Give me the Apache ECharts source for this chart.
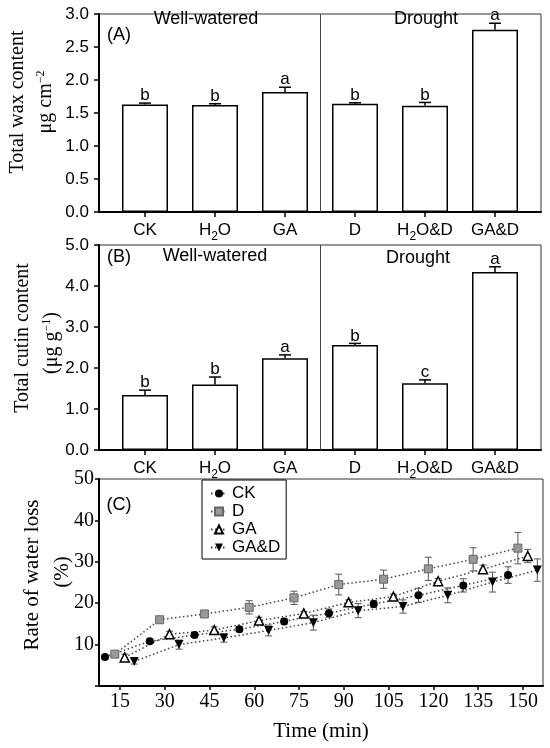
<!DOCTYPE html>
<html>
<head>
<meta charset="utf-8">
<script src="https://cdn.jsdelivr.net/npm/echarts@6/dist/echarts.min.js"></script>
<style>
html, body { margin: 0; padding: 0; background: #fff; }
#chart { width: 550px; height: 748px; }
</style>
</head>
<body>
<div id="chart"></div>
<script>
// panels A and B: six treatments
const treatments = ['CK', 'H2O', 'GA', 'D', 'H2O&D', 'GA&D'];
const waxContent = [1.63, 1.62, 1.82, 1.64, 1.61, 2.76];
const waxError = [0.02, 0.02, 0.07, 0.015, 0.05, 0.10];
const waxLetters = ['b', 'b', 'a', 'b', 'b', 'a'];
const cutinContent = [1.34, 1.60, 2.24, 2.56, 1.63, 4.34];
const cutinError = [0.12, 0.18, 0.08, 0.04, 0.08, 0.13];
const cutinLetters = ['b', 'b', 'a', 'b', 'c', 'a'];

// panel C: water loss over time
const timePoints = [15, 30, 45, 60, 75, 90, 105, 120, 135, 150];
const ckLoss = [7.0, 10.8, 12.3, 13.7, 15.6, 17.6, 19.8, 21.9, 24.3, 26.8];
const ckLossErr = [0.5, 0.5, 0.5, 0.6, 0.6, 1.0, 0.8, 1.7, 1.6, 2.0];
const dLoss = [7.7, 16.0, 17.4, 19.0, 21.3, 24.5, 25.8, 28.3, 30.6, 33.3];
const dLossErr = [0.5, 0.7, 0.6, 1.6, 1.6, 2.5, 2.2, 2.8, 2.8, 3.8];
const gaLoss = [6.9, 12.5, 13.5, 15.8, 17.5, 20.2, 21.6, 25.3, 28.2, 31.4];
const gaLossErr = [0.8, 0.7, 0.8, 0.8, 0.5, 0.6, 0.6, 0.7, 1.0, 1.6];
const gadLoss = [5.9, 10.0, 11.6, 13.4, 15.3, 18.2, 19.2, 21.9, 25.1, 28.0];
const gadLossErr = [0.6, 1.1, 1.0, 1.3, 1.8, 1.7, 1.6, 1.8, 2.4, 2.7];

// points are dodged around each time tick
const dodge = { CK: -5, D: -1.7, GA: 1.6, 'GA&D': 4.8 };

const SANS = '"Liberation Sans", Arial, sans-serif';
const SERIF = '"Liberation Serif", "Times New Roman", serif';

const chart = echarts.init(document.getElementById('chart'), null, { renderer: 'canvas' });

function catLabel(v) {
	const name = treatments[Math.round(v)];
	if (name === undefined) return '';
	if (name.indexOf('H2O') === 0) return '{n|H}{sub|2}{n|O' + name.slice(3) + '}';
	return '{n|' + name + '}';
}

function barXAxis(grid) {
	return {
		type: 'value', gridIndex: grid, min: -0.657, max: 5.657,
		splitLine: { show: false },
		axisLine: { onZero: false, lineStyle: { color: '#000', width: 2 } },
		axisTick: { customValues: [0, 1, 2, 3, 4, 5], length: 5, lineStyle: { color: '#000', width: 1.5 } },
		axisLabel: {
			customValues: [0, 1, 2, 3, 4, 5], formatter: catLabel, margin: 5,
			rich: {
				n: { fontFamily: SANS, fontSize: 17, color: '#000', lineHeight: 26 },
				sub: { fontFamily: SANS, fontSize: 12, color: '#000', lineHeight: 12, verticalAlign: 'bottom' }
			}
		}
	};
}

function barYAxis(grid, max, step) {
	return {
		type: 'value', gridIndex: grid, min: 0, max: max, interval: step,
		splitLine: { show: false },
		axisLine: { show: true, onZero: false, lineStyle: { color: '#000', width: 2 } },
		axisTick: { show: true, length: 5, lineStyle: { color: '#000', width: 1.5 } },
		axisLabel: { formatter: v => v.toFixed(1), fontFamily: SANS, fontSize: 17, color: '#000', margin: 10 }
	};
}

function makeBarError(letters) {
	return function (params, api) {
		const x = api.value(0), v = api.value(1), e = api.value(2);
		const base = api.coord([x, v]);
		const top = api.coord([x, v + e]);
		const st = { stroke: '#000', lineWidth: 1.5 };
		return {
			type: 'group',
			children: [
				{ type: 'line', shape: { x1: base[0], y1: base[1], x2: top[0], y2: top[1] }, style: st },
				{ type: 'line', shape: { x1: top[0] - 6, y1: top[1], x2: top[0] + 6, y2: top[1] }, style: st },
				{ type: 'text', x: top[0], y: top[1] + 1, style: {
					text: letters[params.dataIndex], fill: '#000', font: '17px ' + SANS,
					align: 'center', verticalAlign: 'bottom'
				} }
			]
		};
	};
}

function lineError(params, api) {
	const x = api.value(0), v = api.value(1), e = api.value(2);
	const lo = api.coord([x, v - e]);
	const hi = api.coord([x, v + e]);
	const st = { stroke: '#555', lineWidth: 1 };
	return {
		type: 'group',
		children: [
			{ type: 'line', shape: { x1: lo[0], y1: lo[1], x2: hi[0], y2: hi[1] }, style: st },
			{ type: 'line', shape: { x1: hi[0] - 3.5, y1: hi[1], x2: hi[0] + 3.5, y2: hi[1] }, style: st },
			{ type: 'line', shape: { x1: lo[0] - 3.5, y1: lo[1], x2: lo[0] + 3.5, y2: lo[1] }, style: st }
		]
	};
}

function barSeries(grid, vals) {
	return {
		type: 'bar', xAxisIndex: grid, yAxisIndex: grid, barWidth: 46,
		data: vals.map((v, i) => [i, v]),
		itemStyle: { color: '#fff', borderColor: '#000', borderWidth: 1.5 },
		markLine: {
			silent: true, symbol: 'none', label: { show: false },
			lineStyle: { color: '#444', width: 1, type: 'solid' },
			data: [{ xAxis: 2.5 }]
		}
	};
}

function errSeries(grid, vals, errs, letters) {
	return {
		type: 'custom', xAxisIndex: grid, yAxisIndex: grid, clip: false, z: 3,
		renderItem: makeBarError(letters),
		data: vals.map((v, i) => [i, v, errs[i]])
	};
}

const lossSets = [
	{ name: 'CK', vals: ckLoss, errs: ckLossErr, symbol: 'circle', size: 8, rotate: 0,
		item: { color: '#000' } },
	{ name: 'D', vals: dLoss, errs: dLossErr, symbol: 'rect', size: 8, rotate: 0,
		item: { color: '#999', borderColor: '#666', borderWidth: 1 } },
	{ name: 'GA', vals: gaLoss, errs: gaLossErr, symbol: 'triangle', size: 9, rotate: 0,
		item: { color: '#fff', borderColor: '#000', borderWidth: 1.5 } },
	{ name: 'GA&D', vals: gadLoss, errs: gadLossErr, symbol: 'triangle', size: 9, rotate: 180,
		item: { color: '#000' } }
];

const lossSeries = [];
lossSets.forEach(s => {
	const pts = timePoints.map((t, i) => [t + dodge[s.name], s.vals[i], s.errs[i]]);
	lossSeries.push({
		type: 'custom', name: s.name + ' err', xAxisIndex: 2, yAxisIndex: 2, z: 2,
		renderItem: lineError, data: pts
	});
	lossSeries.push({
		type: 'line', name: s.name, xAxisIndex: 2, yAxisIndex: 2, z: 4,
		data: pts.map(p => [p[0], p[1]]),
		symbol: s.symbol, symbolSize: s.size, symbolRotate: s.rotate,
		showAllSymbol: true,
		lineStyle: { color: '#444', width: 1.5, type: [1.5, 2.5] },
		itemStyle: s.item
	});
});

function txt(x, y, text, font, rot, rich) {
	return {
		type: 'text', x: x, y: y, rotation: rot || 0,
		style: { text: text, font: font, fill: '#000', align: 'center', verticalAlign: 'middle', rich: rich }
	};
}

const supRich = {
	n: { fontFamily: SERIF, fontSize: 20, lineHeight: 22 },
	sup: { fontFamily: SERIF, fontSize: 12, lineHeight: 12, verticalAlign: 'top' }
};

chart.setOption({
	animation: false,
	backgroundColor: '#fff',
	grid: [
		{ left: 99, top: 14, width: 442, height: 198, show: true, borderColor: '#333', borderWidth: 1 },
		{ left: 99, top: 245, width: 442, height: 205, show: true, borderColor: '#333', borderWidth: 1 },
		{ left: 99, top: 479, width: 444, height: 207, show: true, borderColor: '#333', borderWidth: 1 }
	],
	xAxis: [
		barXAxis(0),
		barXAxis(1),
		{
			type: 'value', gridIndex: 2, min: 8, max: 156.7,
			splitLine: { show: false },
			axisLine: { onZero: false, lineStyle: { color: '#000', width: 2 } },
			axisTick: { customValues: timePoints, length: 4, lineStyle: { color: '#000', width: 1.5 } },
			axisLabel: { customValues: timePoints, fontFamily: SERIF, fontSize: 20, color: '#000', margin: 6 }
		}
	],
	yAxis: [
		barYAxis(0, 3, 0.5),
		barYAxis(1, 5, 1),
		{
			type: 'value', gridIndex: 2, min: 0, max: 50, interval: 10,
			splitLine: { show: false },
			axisLine: { show: true, onZero: false, lineStyle: { color: '#000', width: 2 } },
			axisTick: { show: true, length: 4, lineStyle: { color: '#000', width: 1.5 } },
			axisLabel: { formatter: v => (v === 0 ? '' : String(v)), fontFamily: SERIF, fontSize: 20, color: '#000', margin: 5 }
		}
	],
	legend: {
		data: ['CK', 'D', 'GA', 'GA&D'],
		orient: 'vertical', left: 202, top: 480,
		borderColor: '#000', borderWidth: 1, borderRadius: 0,
		padding: [5, 6, 3, 8], itemGap: 1, itemWidth: 16, itemHeight: 10,
		textStyle: { fontFamily: SANS, fontSize: 17, color: '#000', lineHeight: 17 }
	},
	graphic: [
		txt(119, 35, '(A)', '18px ' + SANS),
		txt(206, 19, 'Well-watered', '18px ' + SANS),
		txt(426, 19, 'Drought', '18px ' + SANS),
		txt(119, 257, '(B)', '18px ' + SANS),
		txt(215, 256, 'Well-watered', '18px ' + SANS),
		txt(418, 258, 'Drought', '18px ' + SANS),
		txt(119, 505, '(C)', '18px ' + SANS),
		txt(17.5, 102, 'Total wax content', '20px ' + SERIF, Math.PI / 2),
		txt(46, 102, '{n|μg cm}{sup|−2}', '20px ' + SERIF, Math.PI / 2, supRich),
		txt(22.5, 338, 'Total cutin content', '20px ' + SERIF, Math.PI / 2),
		txt(52, 343, '{n|(μg g}{sup|−1}{n|)}', '20px ' + SERIF, Math.PI / 2, supRich),
		txt(32, 575, 'Rate of water loss', '21px ' + SERIF, Math.PI / 2),
		txt(62, 572, '(%)', '21px ' + SERIF, Math.PI / 2),
		txt(321, 731, 'Time (min)', '21px ' + SERIF)
	],
	series: [
		barSeries(0, waxContent),
		errSeries(0, waxContent, waxError, waxLetters),
		barSeries(1, cutinContent),
		errSeries(1, cutinContent, cutinError, cutinLetters)
	].concat(lossSeries)
});
</script>
</body>
</html>
